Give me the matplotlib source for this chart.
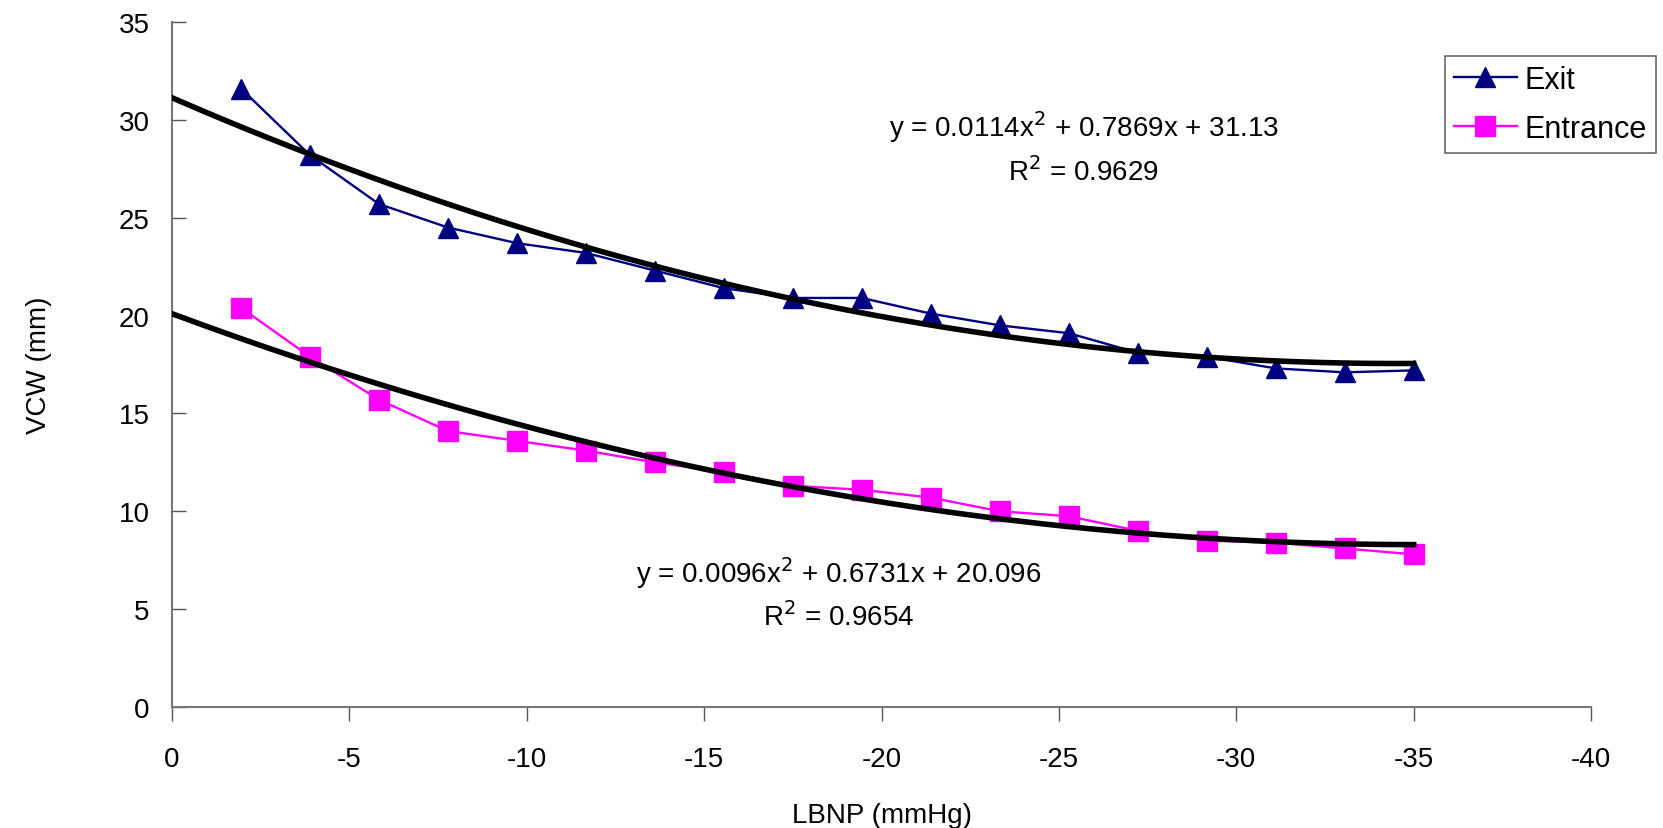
import numpy as np
import matplotlib
matplotlib.use("Agg")
import matplotlib.pyplot as plt

plt.rcParams['font.family'] = ['Liberation Sans', 'DejaVu Sans']

lbnp = [-35 / 18 * k for k in range(1, 19)]
exit_vals = [31.6, 28.2, 25.7, 24.5, 23.7, 23.2, 22.3, 21.4, 20.9, 20.9,
             20.1, 19.5, 19.1, 18.1, 17.9, 17.3, 17.1, 17.2]
entrance_vals = [20.4, 17.9, 15.7, 14.1, 13.6, 13.1, 12.5, 12.0, 11.3, 11.1,
                 10.7, 10.0, 9.75, 9.0, 8.5, 8.4, 8.1, 7.8]
exit_fit = [0.0114, 0.7869, 31.13]
entrance_fit = [0.0096, 0.6731, 20.096]
xticks = [0, -5, -10, -15, -20, -25, -30, -35, -40]
yticks = [0, 5, 10, 15, 20, 25, 30, 35]

fig = plt.figure(figsize=(16.63, 8.29), dpi=100)
ax = fig.add_axes([172 / 1663, 1 - 708 / 829, (1591 - 172) / 1663, (708 - 23) / 829])

xf = np.linspace(0, -35, 200)
ax.plot(xf, np.polyval(exit_fit, xf), color='black', lw=4.0, zorder=3)
ax.plot(xf, np.polyval(entrance_fit, xf), color='black', lw=4.0, zorder=3)

ax.plot(lbnp, exit_vals, color='#000080', lw=1.7, marker='^', markersize=15,
        label='Exit', zorder=2)
ax.plot(lbnp, entrance_vals, color='#FF00FF', lw=1.7, marker='s', markersize=14,
        label='Entrance', zorder=2)

ax.set_xlim(0, -40)
ax.set_ylim(0, 35)
ax.set_xticks(xticks)
ax.set_xticklabels([str(v) for v in xticks])
ax.set_yticks(yticks)
ax.tick_params(axis='x', direction='out', length=10, width=1, labelsize=20, pad=18, color='#555555')
ax.tick_params(axis='y', direction='in', length=10, width=1, labelsize=20, pad=16, color='#555555')
for s in ['top', 'right']:
    ax.spines[s].set_visible(False)
for s in ['left', 'bottom']:
    ax.spines[s].set_color('#777777')
    ax.spines[s].set_linewidth(1.5)

ax.set_xlabel('LBNP (mmHg)', fontsize=20, labelpad=22)
ax.set_ylabel('VCW (mm)', fontsize=20, labelpad=48)

ax.text(-25.7, 29.7, 'y = 0.0114x$^{2}$ + 0.7869x + 31.13', fontsize=20, ha='center', va='center')
ax.text(-25.7, 27.4, 'R$^{2}$ = 0.9629', fontsize=20, ha='center', va='center')
ax.text(-18.8, 6.9, 'y = 0.0096x$^{2}$ + 0.6731x + 20.096', fontsize=20, ha='center', va='center')
ax.text(-18.8, 4.65, 'R$^{2}$ = 0.9654', fontsize=20, ha='center', va='center')

leg = ax.legend(loc='upper left', bbox_to_anchor=(1445 / 1663, 1 - 57 / 829),
                bbox_transform=fig.transFigure, fontsize=22, frameon=True,
                fancybox=False, edgecolor='#444444', handlelength=2.05,
                borderpad=0.3, labelspacing=0.6, handletextpad=0.25,
                borderaxespad=0)
leg.get_frame().set_linewidth(1.2)

fig.savefig('out.png', dpi=100)
